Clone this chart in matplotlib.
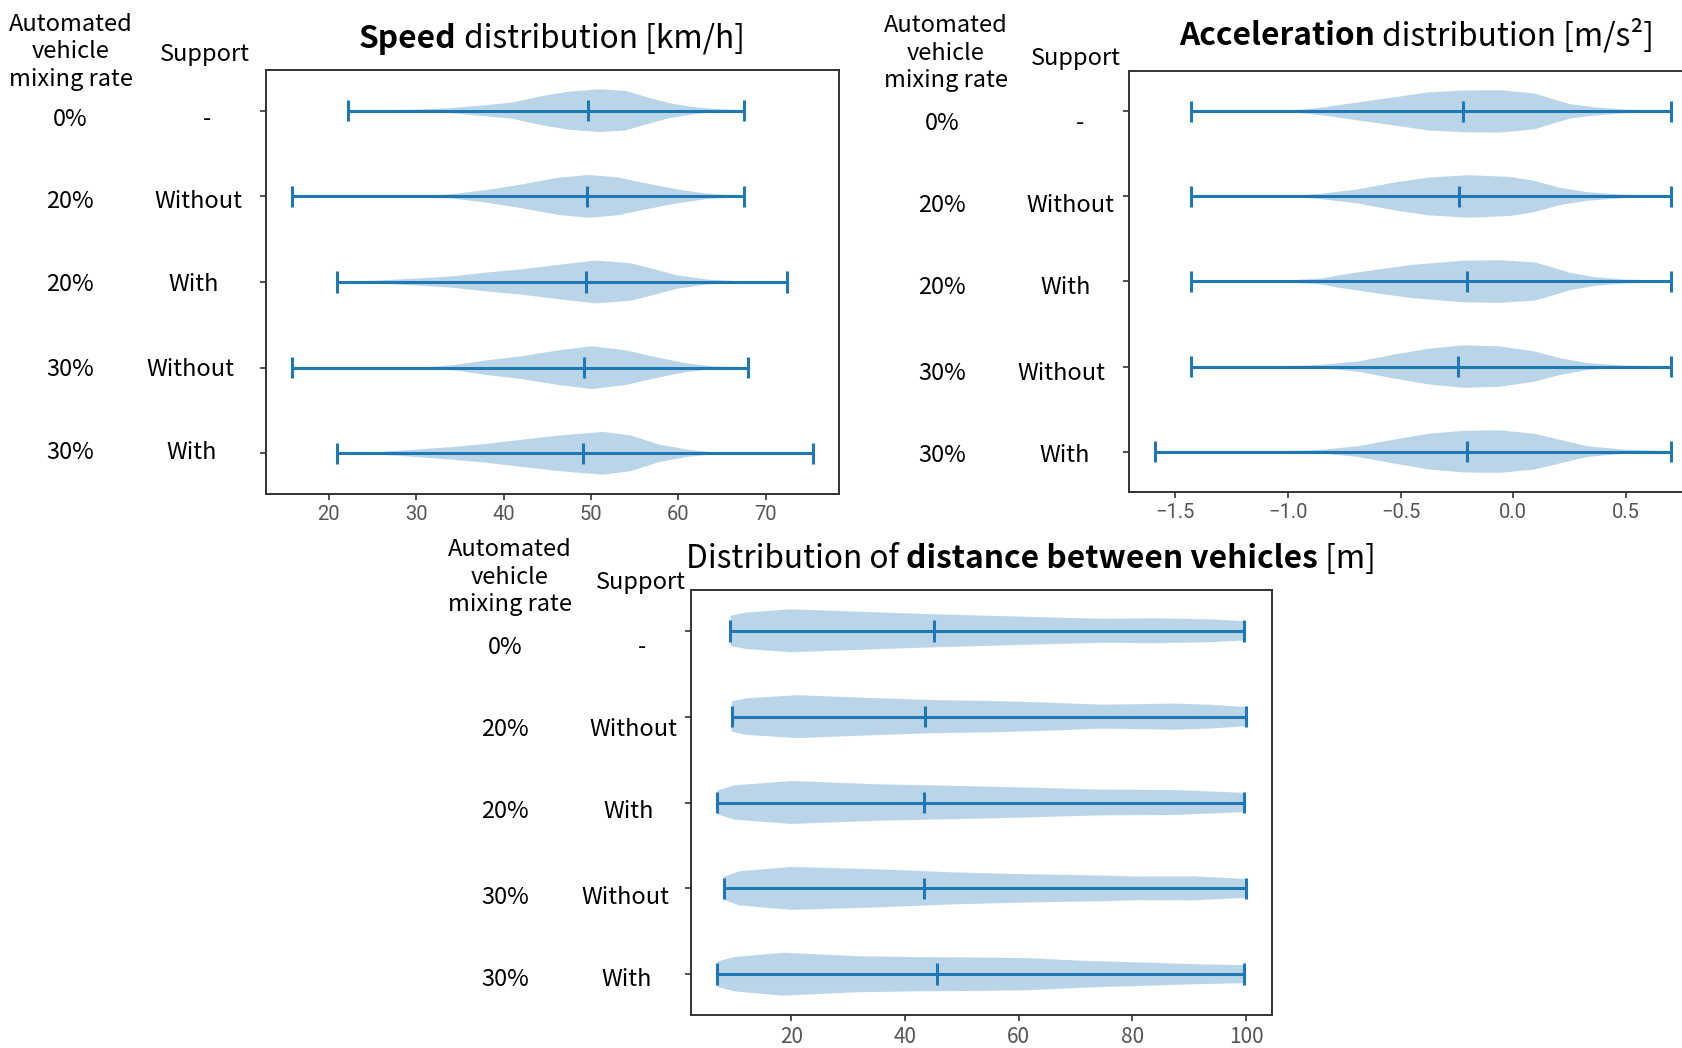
import matplotlib
matplotlib.use("Agg")
import matplotlib.pyplot as plt

plt.rcParams['font.family'] = ['Noto Sans CJK JP', 'DejaVu Sans']

W, H = 1683, 1048

rates = ["0%", "20%", "20%", "30%", "30%"]
supports = ["-", "Without", "With", "Without", "With"]
positions = [1, 2, 3, 4, 5]

# speed [km/h]: density profiles (relative to peak)
speed_min = [22.2, 15.8, 21.0, 15.8, 21.0]
speed_max = [67.5, 67.5, 72.4, 68.0, 75.4]
speed_median = [49.7, 49.5, 49.4, 49.2, 49.1]
speed_coords = [
    [22.2, 26, 30, 34, 38, 41, 44.5, 47.5, 51, 54, 56.5, 59, 61.5, 64, 67.5],
    [15.8, 20, 25, 29.5, 34, 38, 42, 46.3, 49.7, 53, 56.4, 59.8, 63.2, 67.5],
    [21.0, 25, 29.5, 34, 38, 42, 46.3, 50.5, 54.5, 57.3, 59.8, 63.2, 67.4, 72.4],
    [15.8, 20, 25, 31.6, 34.5, 38, 42, 46.3, 50.1, 54, 57.3, 60.7, 64, 68.0],
    [21.0, 25, 29.5, 34, 38, 42, 46.3, 51.4, 54.5, 57.8, 61.2, 64, 68, 75.4],
]
speed_density = [
    [0.01, 0.02, 0.05, 0.12, 0.26, 0.38, 0.69, 0.89, 1.0, 0.92, 0.62, 0.35, 0.18, 0.08, 0.03],
    [0.005, 0.005, 0.01, 0.03, 0.1, 0.29, 0.55, 0.87, 1.0, 0.89, 0.6, 0.33, 0.13, 0.02],
    [0.02, 0.06, 0.15, 0.26, 0.44, 0.59, 0.8, 1.0, 0.88, 0.59, 0.32, 0.12, 0.03, 0.005],
    [0.005, 0.005, 0.01, 0.03, 0.13, 0.34, 0.53, 0.81, 1.0, 0.81, 0.5, 0.22, 0.06, 0.01],
    [0.01, 0.04, 0.16, 0.29, 0.44, 0.63, 0.83, 1.0, 0.84, 0.41, 0.16, 0.05, 0.01, 0.003],
]

# acceleration [m/s2]
accel_min = [-1.43, -1.43, -1.43, -1.43, -1.59]
accel_max = [0.70, 0.70, 0.70, 0.70, 0.70]
accel_median = [-0.223, -0.24, -0.206, -0.245, -0.206]
accel_coords = [
    [-1.43, -1.2, -1.03, -0.92, -0.85, -0.69, -0.53, -0.375, -0.22, -0.06, 0.095, 0.174, 0.252, 0.362, 0.487, 0.70],
    [-1.43, -1.2, -1.05, -0.94, -0.85, -0.69, -0.53, -0.375, -0.2, -0.014, 0.095, 0.205, 0.33, 0.487, 0.70],
    [-1.43, -1.2, -1.0, -0.85, -0.77, -0.61, -0.45, -0.22, -0.06, 0.095, 0.174, 0.252, 0.362, 0.487, 0.70],
    [-1.43, -1.2, -1.03, -0.94, -0.85, -0.69, -0.53, -0.375, -0.22, -0.06, 0.095, 0.205, 0.33, 0.487, 0.70],
    [-1.59, -1.24, -1.0, -0.92, -0.85, -0.69, -0.53, -0.375, -0.22, -0.06, 0.095, 0.205, 0.33, 0.487, 0.70],
]
accel_density = [
    [0.005, 0.01, 0.03, 0.1, 0.18, 0.42, 0.66, 0.9, 0.98, 1.0, 0.84, 0.58, 0.34, 0.19, 0.09, 0.02],
    [0.005, 0.01, 0.02, 0.06, 0.13, 0.33, 0.65, 0.89, 1.0, 0.92, 0.73, 0.41, 0.2, 0.08, 0.02],
    [0.005, 0.01, 0.05, 0.14, 0.3, 0.55, 0.78, 0.98, 1.0, 0.9, 0.66, 0.41, 0.2, 0.1, 0.02],
    [0.005, 0.01, 0.02, 0.04, 0.08, 0.24, 0.56, 0.84, 1.0, 0.95, 0.71, 0.4, 0.16, 0.05, 0.01],
    [0.005, 0.01, 0.03, 0.05, 0.09, 0.25, 0.56, 0.84, 0.98, 1.0, 0.84, 0.56, 0.25, 0.1, 0.02],
]

# distance between vehicles [m]
dist_min = [9.3, 9.5, 7.0, 8.2, 7.0]
dist_max = [99.7, 99.9, 99.7, 99.9, 99.7]
dist_median = [45.1, 43.5, 43.3, 43.3, 45.6]
dist_coords = [
    [9.3, 12, 20, 35, 45, 55, 64.5, 74.4, 84, 94, 99.7],
    [9.5, 12, 21, 35, 45, 55, 64.5, 74.4, 81, 87.5, 94, 99.9],
    [7.0, 10, 20, 35, 48, 61, 74.4, 87.5, 99.7],
    [8.2, 11, 20, 35, 48, 61, 74.4, 81, 90.8, 99.9],
    [7.0, 10, 18.5, 31.6, 41.5, 51.4, 61.2, 71.1, 81, 90.8, 99.7],
]
dist_density = [
    [0.7, 0.85, 1.0, 0.86, 0.77, 0.7, 0.63, 0.56, 0.58, 0.53, 0.45],
    [0.7, 0.85, 1.0, 0.86, 0.77, 0.73, 0.66, 0.56, 0.58, 0.61, 0.55, 0.45],
    [0.55, 0.8, 1.0, 0.85, 0.78, 0.7, 0.6, 0.58, 0.45],
    [0.55, 0.8, 1.0, 0.89, 0.75, 0.66, 0.6, 0.55, 0.56, 0.44],
    [0.59, 0.8, 1.0, 0.84, 0.8, 0.78, 0.75, 0.63, 0.55, 0.47, 0.42],
]

fig = plt.figure(figsize=(W / 100, H / 100), dpi=100)
renderer = fig.canvas.get_renderer()


def px_axes(left, top, right, bottom):
    return fig.add_axes([left / W, 1 - bottom / H, (right - left) / W, (bottom - top) / H])


def draw_violins(ax, coords, density, vmin, vmax, vmed, tick_font, tick_size):
    stats = []
    for c, d, lo, hi, med in zip(coords, density, vmin, vmax, vmed):
        stats.append({'coords': c, 'vals': d, 'min': lo, 'max': hi,
                      'median': med, 'mean': med})
    parts = ax.violin(stats, positions=positions, orientation='horizontal',
                      widths=0.5, showmedians=True, showextrema=True)
    for key in ['cbars', 'cmins', 'cmaxes', 'cmedians']:
        parts[key].set_linewidth(2.2)
    ax.invert_yaxis()
    ax.set_yticks(positions)
    ax.set_yticklabels([])
    for s in ax.spines.values():
        s.set_color('#333333')
        s.set_linewidth(1.4)
    ax.tick_params(length=4, width=1.2, color='#333333', labelcolor='#555555',
                   labelsize=tick_size, pad=4)
    for t in ax.get_xticklabels():
        t.set_fontfamily(tick_font)


def rich_title(parts, x, y, size, align='center'):
    texts = []
    for s, w in parts:
        texts.append(fig.text(0, 1 - y / H, s, fontsize=size, fontweight=w,
                              va='baseline', ha='left'))
    widths = [t.get_window_extent(renderer).width for t in texts]
    start = x - sum(widths) / 2 if align == 'center' else x
    for t, w in zip(texts, widths):
        t.set_x(start / W)
        start += w


def row_labels(head_x, head_y, sup_xy, rate_x, sup_x, label_y, size=17):
    fig.text(head_x / W, 1 - head_y / H, "Automated\nvehicle\nmixing rate",
             ha='center', va='center', fontsize=size, linespacing=1.27)
    fig.text(sup_xy[0] / W, 1 - sup_xy[1] / H, "Support",
             ha='center', va='center', fontsize=size)
    for r, s, sx, y in zip(rates, supports, sup_x, label_y):
        fig.text(rate_x / W, 1 - y / H, r, ha='center', va='center', fontsize=size)
        fig.text(sx / W, 1 - y / H, s, ha='center', va='center', fontsize=size)


# Speed
ax1 = px_axes(266, 70, 839, 494)
draw_violins(ax1, speed_coords, speed_density, speed_min, speed_max, speed_median,
             'Roboto', 14.5)
ax1.set_xticks([20, 30, 40, 50, 60, 70])
rich_title([("Speed", 'bold'), (" distribution [km/h]", 'normal')], 552, 48, 22.8)
row_labels(71, 52, (205, 55), 70, [207, 198, 194, 190, 192],
           [119, 201, 284, 370, 453])

# Acceleration
ax2 = px_axes(1129, 71, 1697, 492)
draw_violins(ax2, accel_coords, accel_density, accel_min, accel_max, accel_median,
             'Roboto', 14.5)
ax2.set_xticks([-1.5, -1.0, -0.5, 0.0, 0.5])
rich_title([("Acceleration", 'bold'), (" distribution [m/s²]", 'normal')], 1417, 45, 22.8)
row_labels(946, 53, (1076, 59), 942, [1080, 1070, 1066, 1061, 1065],
           [124, 206, 288, 373, 456])

# Distance between vehicles
ax3 = px_axes(691, 590, 1272, 1015)
draw_violins(ax3, dist_coords, dist_density, dist_min, dist_max, dist_median,
             'Noto Sans CJK JP', 15)
ax3.set_xticks([20, 40, 60, 80, 100])
rich_title([("Distribution of ", 'normal'), ("distance between vehicles", 'bold'),
            (" [m]", 'normal')], 686, 568, 22.8, align='left')
row_labels(510, 577, (641, 583), 505, [642, 633, 629, 625, 627],
           [648, 730, 812, 898, 980])

fig.savefig("out.png", dpi=100)
